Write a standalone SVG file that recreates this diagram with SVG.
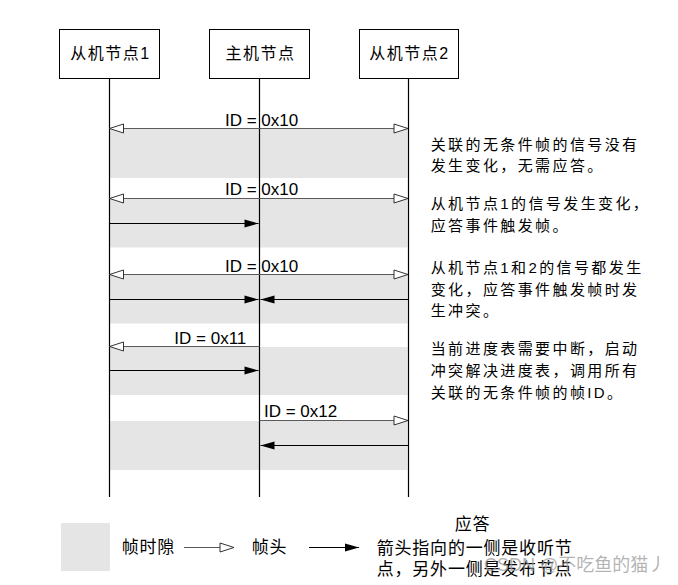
<svg xmlns="http://www.w3.org/2000/svg" width="678" height="585" viewBox="0 0 678 585">
<defs>
<style>
.box{fill:#fff;stroke:#000;stroke-width:1}
.life{stroke:#000;stroke-width:1.2;fill:none}
.band{fill:#e5e5e5}
.hdr{stroke:#5a5a5a;stroke-width:1;fill:none}
.rsp{stroke:#000;stroke-width:1.2;fill:none}
.lbl{font-family:"Liberation Sans","Noto Sans CJK SC",sans-serif;font-size:16px;letter-spacing:1.5px;fill:#000}
.id{font-family:"Liberation Sans",Arial,sans-serif;font-size:17px;fill:#000}
.note{font-family:"Liberation Sans","Noto Sans CJK SC",sans-serif;font-size:15px;letter-spacing:2.4px;fill:#000}
.leg{font-family:"Liberation Sans","Noto Sans CJK SC",sans-serif;font-size:17px;letter-spacing:0.8px;fill:#000}
.wm{font-family:"Liberation Sans","Noto Sans CJK SC",sans-serif;font-size:18px;fill:#9a9a9a;fill-opacity:0.75}
</style>
<marker id="open" markerUnits="userSpaceOnUse" markerWidth="16" markerHeight="12" viewBox="0 0 16 12" refX="15" refY="6" orient="auto-start-reverse">
<path d="M1,1.5 L15,6 L1,10.5 Z" fill="#fff" stroke="#333" stroke-width="1"/>
</marker>
<marker id="fill" markerUnits="userSpaceOnUse" markerWidth="16" markerHeight="12" viewBox="0 0 16 12" refX="15" refY="6" orient="auto">
<path d="M1,2 L15,6 L1,10 Z" fill="#000"/>
</marker>
</defs>
<rect width="678" height="585" fill="#fff"/>

<g id="bands">
<rect class="band" x="109.5" y="129" width="298" height="49"/>
<rect class="band" x="109.5" y="199" width="298" height="48.5"/>
<rect class="band" x="109.5" y="275" width="298" height="48.5"/>
<rect class="band" x="109.5" y="347" width="298" height="48"/>
<rect class="band" x="109.5" y="421" width="298" height="49"/>
</g>

<g id="node-slave1">
<rect class="box" x="59.5" y="29.5" width="100" height="49"/>
<text class="lbl" x="110.5" y="59" text-anchor="middle">从机节点1</text>
</g>
<g id="node-master">
<rect class="box" x="209.5" y="29.5" width="100" height="49"/>
<text class="lbl" x="260.5" y="59" text-anchor="middle">主机节点</text>
</g>
<g id="node-slave2">
<rect class="box" x="359.5" y="29.5" width="99" height="49"/>
<text class="lbl" x="409.5" y="59" text-anchor="middle">从机节点2</text>
</g>

<g id="connectors">
<line class="life" x1="109.5" y1="78.5" x2="109.5" y2="497"/>
<line class="life" x1="259.5" y1="78.5" x2="259.5" y2="497"/>
<line class="life" x1="408.5" y1="78.5" x2="408.5" y2="497"/>

<line class="hdr" x1="109.5" y1="128.5" x2="408" y2="128.5" marker-start="url(#open)" marker-end="url(#open)"/>
<line class="hdr" x1="109.5" y1="198.5" x2="408" y2="198.5" marker-start="url(#open)" marker-end="url(#open)"/>
<line class="rsp" x1="109.5" y1="223.5" x2="258.5" y2="223.5" marker-end="url(#fill)"/>
<line class="hdr" x1="109.5" y1="274.5" x2="408" y2="274.5" marker-start="url(#open)" marker-end="url(#open)"/>
<line class="rsp" x1="109.5" y1="299.5" x2="258.5" y2="299.5" marker-end="url(#fill)"/>
<line class="rsp" x1="408.5" y1="299.5" x2="260.5" y2="299.5" marker-end="url(#fill)"/>
<line class="hdr" x1="259.5" y1="346.5" x2="109.5" y2="346.5" marker-end="url(#open)"/>
<line class="rsp" x1="109.5" y1="370.5" x2="258.5" y2="370.5" marker-end="url(#fill)"/>
<line class="hdr" x1="259.5" y1="420.5" x2="408" y2="420.5" marker-end="url(#open)"/>
<line class="rsp" x1="408.5" y1="445.5" x2="260.5" y2="445.5" marker-end="url(#fill)" stroke="#555"/>
</g>

<g id="frame-labels">
<text class="id" x="225" y="126">ID = 0x10</text>
<text class="id" x="225" y="195">ID = 0x10</text>
<text class="id" x="225" y="271.5">ID = 0x10</text>
<text class="id" x="174.3" y="344">ID = 0x11</text>
<text class="id" x="264" y="416.5">ID = 0x12</text>
</g>

<g id="notes">
<text class="note" x="430.7" y="149.5">关联的无条件帧的信号没有</text>
<text class="note" x="430.7" y="171">发生变化，无需应答。</text>
<text class="note" x="430.7" y="209">从机节点1的信号发生变化，</text>
<text class="note" x="430.7" y="231">应答事件触发帧。</text>
<text class="note" x="430.7" y="272.5">从机节点1和2的信号都发生</text>
<text class="note" x="430.7" y="294.5">变化，应答事件触发帧时发</text>
<text class="note" x="430.7" y="316">生冲突。</text>
<text class="note" x="430.7" y="354">当前进度表需要中断，启动</text>
<text class="note" x="430.7" y="375.5">冲突解决进度表，调用所有</text>
<text class="note" x="430.7" y="397.5">关联的无条件帧的帧ID。</text>
</g>

<g id="legend">
<rect class="band" x="61" y="523" width="49" height="48"/>
<text class="leg" x="121.7" y="552.5">帧时隙</text>
<line class="hdr" x1="184" y1="547.5" x2="234" y2="547.5" marker-end="url(#open)"/>
<text class="leg" x="251.7" y="552.5">帧头</text>
<line class="rsp" x1="309" y1="547.5" x2="359" y2="547.5" marker-end="url(#fill)"/>
<text class="leg" x="472.5" y="530" text-anchor="middle" letter-spacing="0">应答</text>
<text class="leg" x="376.7" y="553.5">箭头指向的一侧是收听节</text>
<text class="leg" x="376.7" y="575">点，另外一侧是发布节点</text>
</g>

<text class="wm" x="484" y="571">CSDN @不吃鱼的猫丿</text>
</svg>
